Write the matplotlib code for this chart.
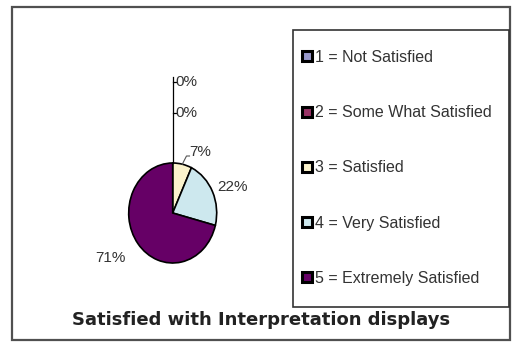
import matplotlib
matplotlib.use('Agg')
import matplotlib.pyplot as plt
import numpy as np
from matplotlib.patches import Rectangle

plt.rcParams['font.family'] = ['Liberation Sans', 'DejaVu Sans']

# satisfaction ratings (percent of respondents)
ratings = ['1 = Not Satisfied', '2 = Some What Satisfied', '3 = Satisfied',
           '4 = Very Satisfied', '5 = Extremely Satisfied']
shares = [0, 0, 7, 22, 71]
colors = ['#9999CC', '#993366', '#FBF3CC', '#CDE8EE', '#660066']

W, H = 512, 343
fig = plt.figure(figsize=(W / 100, H / 100), dpi=100)
fig.patch.set_facecolor('white')

# chart area border
fig.add_artist(Rectangle((12 / W, 1 - 340 / H), 498 / W, 333 / H, transform=fig.transFigure,
                         fill=False, edgecolor='#505050', linewidth=1.6))

# pie axes (slightly taller than wide, as in the sheet export)
cx, cy = 172.7, 213.0
pw, ph = 110, 125
ax = fig.add_axes([(cx - pw / 2) / W, 1 - (cy + ph / 2) / H, pw / W, ph / H])
wedges, _ = ax.pie(shares, colors=colors, startangle=90, counterclock=False,
                   wedgeprops=dict(edgecolor='black', linewidth=1.2))
ax.set_aspect('auto')
ax.set_xlim(-1.25, 1.25)
ax.set_ylim(-1.25, 1.25)


def px(x, y):
    # figure pixel -> pie data coords
    return (x - cx) / (pw / 2.5), (cy - y) / (ph / 2.5)


lab_kw = dict(fontsize=11, color='#333333')
# zero slices: leader up from the top of the pie
ax.plot([0, 0], [1, px(0, 77)[1]], color='black', lw=0.9, clip_on=False)
for yy, v in zip([82, 113], shares[:2]):
    ax.plot([0, px(cx + 3, 0)[0]], [px(0, yy)[1]] * 2, color='black', lw=0.9, clip_on=False)
    ax.text(px(cx + 3, 0)[0], px(0, yy)[1], f'{v}%', ha='left', va='center',
            clip_on=False, **lab_kw)

# 7% label with short leader
w = wedges[2]
mid = np.deg2rad((w.theta1 + w.theta2) / 2)
ax.plot([np.cos(mid), px(186.5, 0)[0], px(189.5, 0)[0]],
        [np.sin(mid), px(0, 156)[1], px(0, 156)[1]], color='#555555', lw=0.8, clip_on=False)
ax.text(*px(189, 152), f'{shares[2]}%', ha='left', va='center', clip_on=False, **lab_kw)
ax.text(*px(233, 187), f'{shares[3]}%', ha='center', va='center', clip_on=False, **lab_kw)
ax.text(*px(110, 258), f'{shares[4]}%', ha='center', va='center', clip_on=False, **lab_kw)

# legend box
fig.add_artist(Rectangle((293 / W, 1 - 307 / H), 216 / W, 277 / H, transform=fig.transFigure,
                         fill=False, edgecolor='#333333', linewidth=1.2))
leg = fig.legend(wedges, ratings, loc='upper left', bbox_to_anchor=(302 / W, 1 - 50 / H),
                 frameon=False, fontsize=11.5, labelspacing=2.52, handlelength=0.6,
                 handleheight=0.6, handletextpad=0.2, borderpad=0, borderaxespad=0)
for h in leg.legend_handles:
    h.set_edgecolor('black')
    h.set_linewidth(2.2)
for t in leg.get_texts():
    t.set_color('#333333')

fig.text(261 / W, 1 - 320 / H, 'Satisfied with Interpretation displays', ha='center',
         va='center', fontsize=13, fontweight='bold', color='#222222',
         family=['DejaVu Sans'])

fig.savefig('out.png', dpi=100)
